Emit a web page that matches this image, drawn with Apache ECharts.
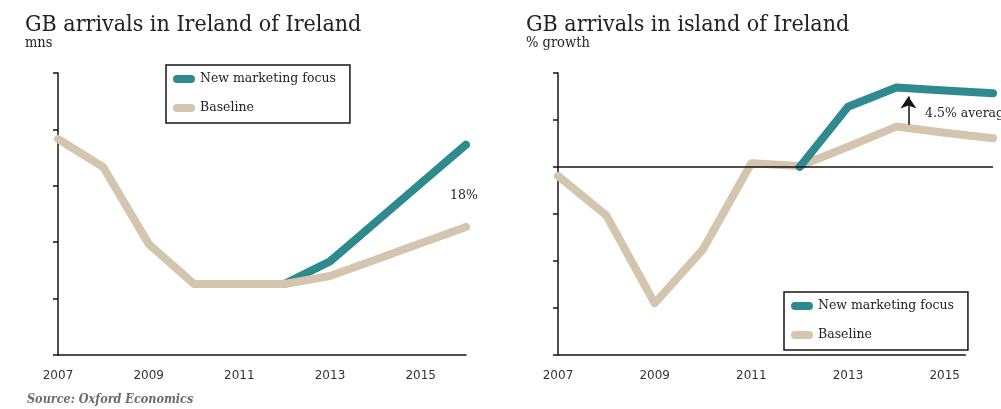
<!DOCTYPE html>
<html><head><meta charset="utf-8">
<script src="https://cdn.jsdelivr.net/npm/echarts@6/dist/echarts.min.js"></script>
<style>html,body{margin:0;padding:0;background:#fff}#c{width:1001px;height:409px}</style>
</head><body><div id="c"></div>
<script>
// ---- data ----
const years = [2007, 2008, 2009, 2010, 2011, 2012, 2013, 2014, 2015, 2016];
const xTickYears = [2007, 2009, 2011, 2013, 2015];
const seriesNames = ['New marketing focus', 'Baseline'];
// Left chart: GB arrivals, mns (unlabelled axis, 0-5)
const levelNewFocus = [null, null, null, null, null, 1.26, 1.66, 2.35, 3.04, 3.73];
const levelBaseline = [3.83, 3.33, 1.97, 1.26, 1.26, 1.26, 1.40, 1.69, 1.98, 2.27];
// Right chart: % growth (unlabelled axis, -4 to 2)
const growthNewFocus = [null, null, null, null, null, 0.00, 1.28, 1.69, 1.63, 1.57];
const growthBaseline = [-0.19, -1.03, -2.90, -1.75, 0.08, 0.02, 0.43, 0.86, 0.73, 0.61];

const TEAL = '#2e8a8f';
const SAND = '#d4c5ae';
const INK = '#151515';
const SERIF = '"DejaVu Serif", "Liberation Serif", serif';
const COND = '"DejaVu Serif Condensed", "DejaVu Serif", serif';
const SANS = '"DejaVu Sans", sans-serif';

const pairs = arr => arr.map((v, i) => v == null ? null : [i, v]).filter(p => p);
const yearLabel = v => (Number.isInteger(v) && xTickYears.includes(years[v])) ? String(years[v]) : '';
const capsule = 'path://M4,0 L18,0 A4,4 0 0 1 18,8 L4,8 A4,4 0 0 1 4,0 Z';
const RIGHT_AXIS_END = 8.44; // visible end of the right-hand x-axis line

function xAxis(gridIndex, max, showLine) {
  return {
    type: 'value', gridIndex, min: 0, max, interval: 1,
    axisLine: { show: showLine, onZero: false, lineStyle: { color: INK, width: 1.5 } },
    axisTick: { show: false }, splitLine: { show: false },
    axisLabel: { formatter: yearLabel, color: '#333', fontFamily: SANS, fontSize: 12, margin: 15 }
  };
}
function yAxis(gridIndex, min, max) {
  return {
    type: 'value', gridIndex, min, max, interval: 1,
    axisLine: { show: true, lineStyle: { color: INK, width: 1.5 } },
    axisTick: { show: true, inside: false, length: 5, lineStyle: { color: INK, width: 1.5 } },
    axisLabel: { show: false }, splitLine: { show: false }
  };
}
function lineSeries(name, color, data, xi, z) {
  return {
    name, type: 'line', xAxisIndex: xi, yAxisIndex: xi, data: pairs(data),
    symbol: 'none', showSymbol: false, clip: false, z, animation: false,
    lineStyle: { color, width: 8, cap: 'round', join: 'round' },
    itemStyle: { color }
  };
}
function legend(id, left, top) {
  return {
    id, data: seriesNames, orient: 'vertical', left, top, icon: capsule,
    itemWidth: 22, itemHeight: 8, itemGap: 15,
    padding: [7, 14, 8, 7], borderColor: INK, borderWidth: 1.5,
    selectedMode: false,
    textStyle: { fontFamily: SERIF, fontSize: 12.5, color: '#222', lineHeight: 14 }
  };
}
function title(text, sub, left) {
  return {
    text, subtext: sub, left, top: 12, padding: 0, itemGap: -3,
    textStyle: { fontFamily: COND, fontWeight: 'normal', fontSize: 23, color: '#222', lineHeight: 26 },
    subtextStyle: { fontFamily: COND, fontSize: 14.5, color: '#222', lineHeight: 16 }
  };
}

const chart = echarts.init(document.getElementById('c'), null, { renderer: 'canvas' });
chart.setOption({
  animation: false,
  backgroundColor: '#fff',
  title: [ title('GB arrivals in Ireland of Ireland', 'mns', 25), title('GB arrivals in island of Ireland', '% growth', 526) ],
  legend: [ legend('l1', 166, 65), legend('l2', 784, 292) ],
  grid: [
    { left: 58, top: 73, width: 408, height: 282 },
    { left: 558, top: 73, width: 435, height: 282 }
  ],
  xAxis: [ xAxis(0, 9, true), xAxis(1, 9, false) ],
  yAxis: [ yAxis(0, 0, 5), yAxis(1, -4, 2) ],
  series: [
    lineSeries(seriesNames[0], TEAL, levelNewFocus, 0, 2),
    lineSeries(seriesNames[1], SAND, levelBaseline, 0, 3),
    {
      name: 'axes', type: 'line', xAxisIndex: 1, yAxisIndex: 1, data: [], z: 1,
      markLine: {
        silent: true, animation: false, symbol: ['none', 'none'], label: { show: false },
        lineStyle: { color: INK, width: 1.5, type: 'solid' },
        data: [
          [{ coord: [0, 0] }, { coord: [9, 0] }],
          [{ coord: [0, -4] }, { coord: [RIGHT_AXIS_END, -4] }]
        ]
      }
    },
    lineSeries(seriesNames[1], SAND, growthBaseline, 1, 2),
    lineSeries(seriesNames[0], TEAL, growthNewFocus, 1, 3),
    {
      name: 'arrow', type: 'line', xAxisIndex: 1, yAxisIndex: 1, data: [], z: 4,
      markLine: {
        silent: true, animation: false, symbol: ['none', 'arrow'], symbolSize: [12, 12], label: { show: false },
        lineStyle: { color: INK, width: 1.5, type: 'solid' },
        data: [[{ coord: [7.25, 0.9] }, { coord: [7.25, 1.5] }]]
      }
    }
  ],
  graphic: [
    { type: 'text', left: 450, top: 189, style: { text: '18%', font: '12.5px ' + SERIF, fill: '#222' } },
    { type: 'text', left: 925, top: 107, style: { text: '4.5% average', font: '12.5px ' + SERIF, fill: '#222' } },
    { type: 'text', left: 27, top: 393, style: { text: 'Source: Oxford Economics', font: 'italic bold 12.5px ' + COND, fill: '#6b6b6b' } }
  ]
});
</script></body></html>
